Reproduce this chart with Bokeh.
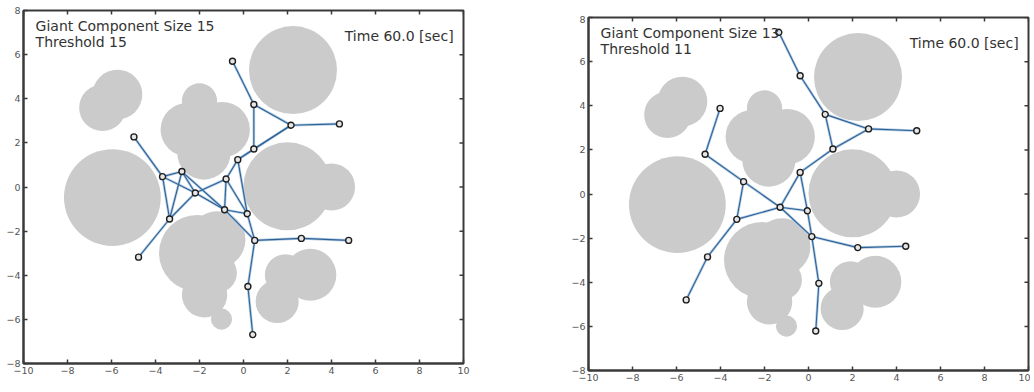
from bokeh.plotting import figure
from bokeh.models import Range1d, FixedTicker, Label, ColumnDataSource, Spacer
from bokeh.layouts import row, column
from bokeh.embed import file_html
from bokeh.resources import INLINE

# ---- obstacles (grey disks), shared by both panels ----
obst_x = [2.25, -5.96, 2.0, 4.0, -5.73, -6.41, -2.0, -2.56, -0.97, -1.8, -2.1, -1.2, -1.77, -1.2, -1.0, 3.04, 1.53, 1.91]
obst_y = [5.3, -0.48, 0.03, 0.0, 4.19, 3.59, 3.9, 2.6, 2.6, 1.54, -3.0, -2.39, -4.89, -3.9, -5.99, -3.98, -5.19, -3.98]
obst_r = [2.0, 2.2, 2.0, 1.07, 1.13, 1.06, 0.8, 1.21, 1.26, 1.21, 1.74, 1.29, 1.03, 0.9, 0.48, 1.18, 0.98, 0.94]

# ---- left panel: robots and links ----
left_x = [-0.5, 0.47, 2.16, 4.36, 0.47, -0.26, -0.79, -4.98, -3.68, -2.8, -2.19, -0.86, 0.17, -3.36, -4.77, 0.51, 2.63, 4.78, 0.2, 0.42]
left_y = [5.7, 3.74, 2.8, 2.86, 1.72, 1.24, 0.36, 2.27, 0.47, 0.7, -0.27, -1.03, -1.21, -1.45, -3.18, -2.42, -2.33, -2.42, -4.51, -6.69]
left_from = [0, 1, 2, 1, 2, 2, 4, 5, 7, 8, 8, 9, 8, 9, 10, 10, 10, 9, 6, 6, 5, 11, 11, 12, 13, 15, 16, 15, 18]
left_to   = [1, 2, 3, 4, 4, 5, 5, 6, 8, 9, 13, 13, 10, 10, 13, 6, 11, 11, 11, 12, 12, 12, 15, 15, 14, 16, 17, 18, 19]
left_giant = 15
left_threshold = 15

# ---- right panel ----
right_x = [-1.35, -0.38, 0.76, 2.73, 4.92, 1.11, -0.38, -4.02, -4.7, -2.95, -1.29, -0.05, -3.26, 0.15, 2.24, 4.42, -4.59, -5.56, 0.47, 0.33]
right_y = [7.33, 5.36, 3.61, 2.95, 2.87, 2.04, 0.98, 3.88, 1.8, 0.56, -0.6, -0.76, -1.15, -1.93, -2.43, -2.37, -2.85, -4.8, -4.05, -6.21]
right_from = [0, 1, 2, 3, 2, 3, 5, 6, 6, 10, 7, 8, 9, 9, 12, 12, 16, 10, 11, 13, 14, 13, 18]
right_to   = [1, 2, 3, 4, 5, 5, 6, 10, 11, 11, 8, 9, 10, 12, 10, 16, 17, 13, 13, 14, 15, 18, 19]
right_giant = 13
right_threshold = 11

time_sec = 60.0
ticks_x = [-10, -8, -6, -4, -2, 0, 2, 4, 6, 8, 10]
ticks_y = [-8, -6, -4, -2, 0, 2, 4, 6, 8]

FONT = "DejaVu Sans"
AX = "#3a3a3a"
FW, FH = 440, 353


def style_axis(ax, ticks):
    ax.ticker = FixedTicker(ticks=ticks)
    ax.axis_line_color = AX
    ax.axis_line_width = 2
    ax.major_tick_line_color = AX
    ax.major_tick_line_width = 1.5
    ax.major_tick_in = 4
    ax.major_tick_out = 0
    ax.minor_tick_line_color = None
    ax.major_label_text_font = FONT
    ax.major_label_text_font_size = "9.5px"
    ax.major_label_text_color = "#555555"
    ax.major_label_standoff = 3


def panel(nx, ny, efrom, eto, giant, thr, bl, bt, br, bb):
    xr, yr = Range1d(-10, 10), Range1d(-8, 8)
    p = figure(frame_width=FW, frame_height=FH, x_range=xr, y_range=yr,
               output_backend="svg", toolbar_location=None,
               min_border_left=bl, min_border_top=bt,
               min_border_right=br, min_border_bottom=bb)
    p.grid.visible = False
    p.outline_line_color = AX
    p.outline_line_width = 2
    p.background_fill_color = "white"
    p.border_fill_color = "white"
    style_axis(p.xaxis[0], ticks_x)
    style_axis(p.yaxis[0], ticks_y)

    # inward ticks on the top and right edges of the box
    tx = 4 * (xr.end - xr.start) / FW
    ty = 4 * (yr.end - yr.start) / FH
    p.segment(x0=ticks_x, y0=[yr.end] * len(ticks_x), x1=ticks_x,
              y1=[yr.end - ty] * len(ticks_x), line_color=AX, line_width=1.5)
    p.segment(x0=[xr.end] * len(ticks_y), y0=ticks_y, x1=[xr.end - tx] * len(ticks_y),
              y1=ticks_y, line_color=AX, line_width=1.5)

    p.circle(x="x", y="y", radius="r",
             source=ColumnDataSource(dict(x=obst_x, y=obst_y, r=obst_r)),
             fill_color="#cbcbcb", line_color=None)

    x0 = [nx[i] for i in efrom]
    y0 = [ny[i] for i in efrom]
    x1 = [nx[i] for i in eto]
    y1 = [ny[i] for i in eto]
    p.segment(x0=x0, y0=y0, x1=x1, y1=y1, line_color="#b3cbe2", line_width=2.6)
    p.segment(x0=x0, y0=y0, x1=x1, y1=y1, line_color="#2d6297", line_width=1.1)

    p.scatter(x=nx, y=ny, marker="circle", size=6,
              fill_color="#e6e6e6", line_color="#1e1e1e", line_width=1.4)

    for txt, x, y, align in [
        ("Giant Component Size %d" % giant, -9.45, 7.30, "left"),
        ("Threshold %d" % thr, -9.45, 6.55, "left"),
        ("Time %.1f [sec]" % time_sec, 9.55, 6.86, "right"),
    ]:
        p.add_layout(Label(x=x, y=y, text=txt, text_align=align,
                           text_baseline="alphabetic", text_font=FONT,
                           text_font_size="14px", text_color="#333333"))
    return p


p1 = panel(left_x, left_y, left_from, left_to, left_giant, left_threshold, 23, 10, 81, 21)
p2 = panel(right_x, right_y, right_from, right_to, right_giant, right_threshold, 44, 2, 2, 18)

layout = row(p1, column(Spacer(height=15, width=10), p2))
open("out.html", "w").write(file_html(layout, INLINE))
